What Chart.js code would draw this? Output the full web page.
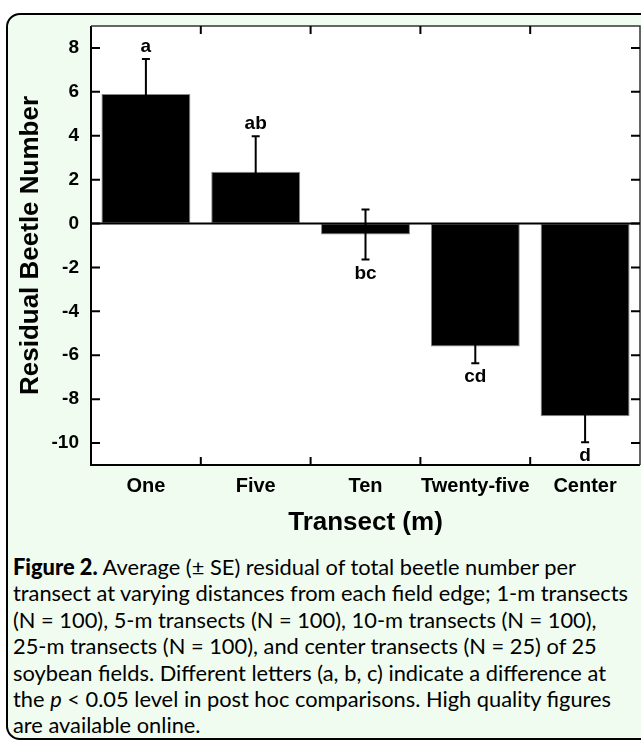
<!DOCTYPE html>
<html>
<head>
<meta charset="utf-8">
<script src="https://cdn.jsdelivr.net/npm/chart.js@4.4.1/dist/chart.umd.min.js"></script>
<style>
  html, body { margin: 0; padding: 0; background: #ffffff; }
  body { width: 641px; height: 741px; position: relative; overflow: hidden; }
  #box {
    position: absolute; left: 6px; top: 13px; width: 700px; height: 727px;
    border: 2px solid #000; border-radius: 14px 0 0 14px;
    background: #f0fcf0; box-sizing: border-box;
  }
  #wrap { position: absolute; left: 0; top: 0; width: 641px; height: 548px; }
  #caption {
    position: absolute; left: 13px; top: 554px; width: 640px;
    font-family: "Lato", "Open Sans", sans-serif; font-size: 20px; line-height: 26.4px; color: #000;
  }
  #caption div { white-space: nowrap; }
  #caption b { font-weight: 900; }
</style>
</head>
<body>
<div id="box"></div>
<div id="wrap"><canvas id="c"></canvas></div>
<div id="caption">
  <div><b>Figure 2.</b> Average (± SE) residual of total beetle number per</div>
  <div id="fitline">transect at varying distances from each field edge; 1-m transects</div>
  <div>(N = 100), 5-m transects (N = 100), 10-m transects (N = 100),</div>
  <div>25-m transects (N = 100), and center transects (N = 25) of 25</div>
  <div>soybean fields. Different letters (a, b, c) indicate a difference at</div>
  <div>the <i>p</i> &lt; 0.05 level in post hoc comparisons. High quality figures</div>
  <div>are available online.</div>
</div>
<script>
const categories = ["One", "Five", "Ten", "Twenty-five", "Center"];
const meanResidual = [5.9, 2.36, -0.5, -5.6, -8.78];
const standardError = [1.6, 1.62, 1.14, 0.76, 1.18];
const groupLetters = ["a", "ab", "bc", "cd", "d"];
const yTickValues = [8, 6, 4, 2, 0, -2, -4, -6, -8, -10];
const yMin = -11, yMax = 9;

const FONT = '"Liberation Sans", Arial, Helvetica, sans-serif';

const framePlugin = {
  id: 'frame',
  beforeDatasetsDraw(chart) {
    const {ctx, chartArea: a} = chart;
    ctx.save();
    ctx.fillStyle = '#ffffff';
    ctx.fillRect(a.left, a.top, a.right - a.left, a.bottom - a.top);
    ctx.restore();
  },
  afterDatasetsDraw(chart) {
    const {ctx, chartArea: a, scales} = chart;
    const y = scales.y, x = scales.x;
    ctx.save();
    const y0 = y.getPixelForValue(0);
    ctx.strokeStyle = '#000';
    ctx.lineWidth = 2;
    ctx.beginPath(); ctx.moveTo(a.left, y0); ctx.lineTo(a.right, y0); ctx.stroke();

    const meta = chart.getDatasetMeta(0);
    ctx.lineWidth = 2;
    meta.data.forEach((bar, i) => {
      const v = meanResidual[i], se = standardError[i];
      const px = bar.x;
      const yt = y.getPixelForValue(v + se);
      const yb = y.getPixelForValue(v - se);
      ctx.beginPath();
      ctx.moveTo(px, yt); ctx.lineTo(px, yb);
      ctx.moveTo(px - 4, yt); ctx.lineTo(px + 4, yt);
      ctx.moveTo(px - 4, yb); ctx.lineTo(px + 4, yb);
      ctx.stroke();
      ctx.fillStyle = '#000';
      ctx.font = 'bold 19px ' + FONT;
      ctx.textAlign = 'center';
      ctx.textBaseline = 'alphabetic';
      if (v >= 0) ctx.fillText(groupLetters[i], px, yt - 7);
      else ctx.fillText(groupLetters[i], px, yb + 19);
    });

    ctx.strokeStyle = '#000';
    ctx.lineWidth = 2;
    ctx.beginPath();
    ctx.moveTo(a.left, a.top); ctx.lineTo(a.left, a.bottom); ctx.lineTo(a.right, a.bottom);
    ctx.stroke();
    ctx.strokeStyle = '#333';
    ctx.lineWidth = 1.5;
    ctx.beginPath();
    ctx.moveTo(a.left, a.top); ctx.lineTo(a.right, a.top); ctx.lineTo(a.right, a.bottom);
    ctx.stroke();

    ctx.strokeStyle = '#000';
    ctx.lineWidth = 2;
    ctx.beginPath();
    y.ticks.forEach(t => {
      const py = y.getPixelForValue(t.value);
      ctx.moveTo(a.left, py); ctx.lineTo(a.left + 9, py);
      ctx.moveTo(a.right, py); ctx.lineTo(a.right - 9, py);
    });
    for (let i = 0; i < categories.length - 1; i++) {
      const px = (x.getPixelForValue(i) + x.getPixelForValue(i + 1)) / 2;
      ctx.moveTo(px, a.top); ctx.lineTo(px, a.top + 8);
      ctx.moveTo(px, a.bottom); ctx.lineTo(px, a.bottom - 8);
    }
    ctx.stroke();
    ctx.restore();
  }
};

new Chart(document.getElementById('c'), {
  type: 'bar',
  data: {
    labels: categories,
    datasets: [{
      data: meanResidual,
      backgroundColor: '#000000',
      borderColor: '#888888',
      borderWidth: 1,
      borderSkipped: false,
      barPercentage: 0.81,
      categoryPercentage: 1.0
    }]
  },
  options: {
    responsive: true,
    maintainAspectRatio: false,
    animation: false,
    devicePixelRatio: 1,
    layout: { padding: { top: 26, right: 1, left: 0, bottom: 0 } },
    plugins: { legend: { display: false }, tooltip: { enabled: false } },
    scales: {
      x: {
        grid: { display: false, drawTicks: false },
        border: { display: false },
        ticks: { color: '#000', font: { family: FONT, size: 20, weight: 'bold' }, padding: 9, maxRotation: 0, autoSkip: false },
        title: { display: true, text: 'Transect (m)', color: '#000', font: { family: FONT, size: 26, weight: 'bold' }, padding: { top: 0, bottom: 10 } },
        afterFit(s) { s.height = 83; }
      },
      y: {
        min: yMin, max: yMax,
        grid: { display: false, drawTicks: false },
        border: { display: false },
        afterBuildTicks(s) { s.ticks = yTickValues.map(v => ({ value: v })); },
        ticks: { color: '#000', font: { family: FONT, size: 19, weight: 'bold' }, padding: 12, callback: v => String(v) },
        title: { display: true, text: 'Residual Beetle Number', color: '#000', font: { family: FONT, size: 26, weight: 'bold' }, padding: { top: 15, bottom: 0 } },
        afterFit(s) { s.width = 91; }
      }
    }
  },
  plugins: [framePlugin]
});

(function fit() {
  const line = document.getElementById('fitline');
  const span = document.createElement('span');
  span.textContent = line.textContent;
  span.style.whiteSpace = 'nowrap';
  line.textContent = '';
  line.appendChild(span);
  const w = span.getBoundingClientRect().width;
  if (w > 0) {
    const fs = 20 * 615 / w;
    document.getElementById('caption').style.fontSize = fs.toFixed(2) + 'px';
  }
})();
</script>
</body>
</html>
